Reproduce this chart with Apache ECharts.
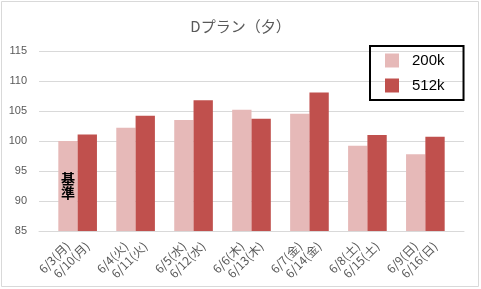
<!DOCTYPE html>
<html>
<head>
<meta charset="utf-8">
<script src="https://cdn.jsdelivr.net/npm/echarts@6/dist/echarts.min.js"></script>
<style>html,body{margin:0;padding:0;background:#fff}#c{width:481px;height:289px}</style>
</head>
<body>
<div id="c"></div>
<script>
const titleText = 'Dプラン（夕）';
const weekA = ['6/3(月)', '6/4(火)', '6/5(水)', '6/6(木)', '6/7(金)', '6/8(土)', '6/9(日)'];
const weekB = ['6/10(月)', '6/11(火)', '6/12(水)', '6/13(木)', '6/14(金)', '6/15(土)', '6/16(日)'];
const seriesNames = ['200k', '512k'];
const values200k = [100.0, 102.2, 103.5, 105.2, 104.55, 99.2, 97.8];
const values512k = [101.1, 104.2, 106.8, 103.7, 108.1, 101.0, 100.7];
const yTicks = [85, 90, 95, 100, 105, 110, 115];
const baseLabel = '基\n準';

// Excel-style slot layout: [blank, A, B] per group + trailing blank
const slots = [''];
const d200 = ['-'];
const d512 = ['-'];
weekA.forEach((a, g) => {
  slots.push(a, weekB[g], '');
  d200.push(g === 0 ? {value: values200k[g], label: {show: true, position: 'inside', formatter: baseLabel, fontSize: 14, fontWeight: 'bold', color: '#000', lineHeight: 14, fontFamily: 'Noto Sans CJK JP'}} : values200k[g], '-', '-');
  d512.push('-', values512k[g], '-');
});
slots.pop(); d200.pop(); d512.pop();
slots.push(''); d200.push('-'); d512.push('-');

const chart = echarts.init(document.getElementById('c'), null, {renderer: 'canvas'});
chart.setOption({
  animation: false,
  backgroundColor: '#fff',
  textStyle: {fontFamily: 'Noto Sans CJK JP'},
  title: {
    text: titleText, left: 'center', top: 14,
    textStyle: {fontSize: 15, fontWeight: 'normal', color: '#595959', fontFamily: 'Noto Sans CJK JP'}
  },
  legend: {
    orient: 'vertical', left: 370, top: 46,
    padding: [7, 19, 7, 15],
    borderColor: '#000', borderWidth: 2,
    itemWidth: 14, itemHeight: 14, itemGap: 10,
    icon: 'rect',
    textStyle: {fontSize: 15, color: '#000', padding: [0, 0, 0, 8], fontFamily: 'Liberation Sans'},
    data: seriesNames
  },
  grid: {left: 39, right: 17, top: 51, bottom: 58},
  xAxis: {
    type: 'category', data: slots, boundaryGap: true,
    axisLine: {lineStyle: {color: '#d9d9d9'}},
    axisTick: {interval: 0, length: 5, lineStyle: {color: '#d9d9d9'}},
    axisLabel: {interval: 0, rotate: 45, margin: 13, fontSize: 12, color: '#595959', fontFamily: 'Noto Sans CJK JP'}
  },
  yAxis: {
    type: 'value', min: yTicks[0], max: yTicks[yTicks.length - 1], interval: 5,
    axisLine: {show: false}, axisTick: {show: false},
    splitLine: {lineStyle: {color: '#d9d9d9'}},
    axisLabel: {fontSize: 11, color: '#595959', margin: 12, fontFamily: 'Liberation Sans'}
  },
  series: [
    {name: seriesNames[0], type: 'bar', data: d200, barWidth: '100%', barGap: '-100%', barCategoryGap: 0, itemStyle: {color: '#e6b9b8'}},
    {name: seriesNames[1], type: 'bar', data: d512, barWidth: '100%', barGap: '-100%', barCategoryGap: 0, itemStyle: {color: '#c0504d'}}
  ],
  graphic: [{
    type: 'rect', silent: true, z: 100,
    shape: {x: 1.5, y: 1.5, width: 477, height: 285},
    style: {fill: 'none', stroke: '#d9d9d9', lineWidth: 1}
  }]
});
</script>
</body>
</html>
